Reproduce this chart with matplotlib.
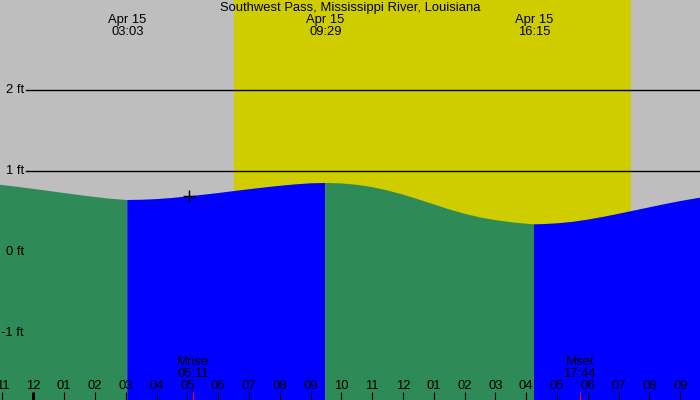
import numpy as np
import matplotlib
matplotlib.use('Agg')
import matplotlib.pyplot as plt
import matplotlib.transforms as mtransforms

# Donnees (heures depuis minuit le 15 avril, hauteur en ft)
t_tide = [-1.08, -1.0, -0.5, 0.0, 0.5, 1.0, 1.5, 2.0, 2.5, 3.0, 3.05, 3.5, 4.0, 4.5, 5.0, 5.5,
          6.0, 6.5, 7.0, 7.5, 8.0, 8.5, 9.0, 9.48, 10.0, 10.5, 11.0, 11.5, 12.0, 12.5,
          13.0, 13.5, 14.0, 14.5, 15.0, 15.5, 16.0, 16.25, 16.5, 17.0, 17.5, 18.0, 18.5,
          19.0, 19.5, 20.0, 20.5, 21.0, 21.64]
h_tide = [0.827, 0.822, 0.800, 0.775, 0.750, 0.724, 0.699, 0.675, 0.654, 0.639, 0.638, 0.641, 0.649, 0.663, 0.682, 0.702,
          0.724, 0.748, 0.771, 0.793, 0.813, 0.831, 0.844, 0.848, 0.843, 0.826, 0.797, 0.756, 0.705, 0.646,
          0.584, 0.522, 0.468, 0.423, 0.390, 0.364, 0.345, 0.338, 0.340, 0.350, 0.368, 0.396, 0.430,
          0.468, 0.508, 0.548, 0.588, 0.625, 0.667]

# Extremes (pleine mer / basse mer)
t_ext = [3.05, 9.48, 16.25]
lab_day = ['Apr 15', 'Apr 15', 'Apr 15']
lab_ext = ['03:03', '09:29', '16:15']

# Lever / coucher du soleil et de la lune
sunrise, sunset = 6.514, 19.40
t_moon = [5.183, 17.733]
lab_moon = ['Mrise', 'Mset']
lab_moon_t = ['05:11', '17:44']

# Point courant (+)
t_now, h_now = 5.05, 0.684

hours = list(range(-1, 22))
hour_labels = ['11', '12', '01', '02', '03', '04', '05', '06', '07', '08', '09', '10',
               '11', '12', '01', '02', '03', '04', '05', '06', '07', '08', '09']
levels = [2, 1, 0, -1]
level_labels = ['2 ft', '1 ft', '0 ft', '-1 ft']

title = 'Southwest Pass, Mississippi River, Louisiana'

plt.rcParams['font.family'] = ['Liberation Sans', 'DejaVu Sans']
fs = 9.4

fig = plt.figure(figsize=(7, 4), dpi=100)
ax = fig.add_axes([0, 0, 1, 1])
ax.set_xlim(-1.081, 21.64)
ax.set_ylim(-1.831, 3.107)
ax.axis('off')
ax.add_patch(plt.Rectangle((0, 0), 1, 1, transform=ax.transAxes, color='#bebebe', zorder=0))

ax.axvspan(sunrise, sunset, color='#cfcd00', lw=0, zorder=1)

for lv in levels[:2]:
    ax.axhline(lv, xmin=26/700, xmax=1, color='black', lw=1, zorder=2)

# Remplissage de l'eau: vert = descendante, bleu = montante
t = np.array(t_tide)
h = np.array(h_tide)
bounds = [t[0]] + t_ext + [t[-1]]
for i in range(len(bounds) - 1):
    m = (t >= bounds[i]) & (t <= bounds[i + 1])
    rising = h[m][-1] > h[m][0]
    ax.fill_between(t[m], -5, h[m], color='#0000ff' if rising else '#2e8b57',
                    lw=0, zorder=3)

ax.plot(t_now, h_now, marker='+', color='black', ms=9, mew=1, zorder=5)

trans = mtransforms.blended_transform_factory(ax.transData, fig.transFigure)

def ypx(p):
    return 1 - p / 400

for lv, lab in zip(levels, level_labels):
    ax.text(-1.081 + 24/30.81, lv, lab, ha='right', va='center', fontsize=fs, zorder=6)

ax.text(0.5, ypx(7.5), title, transform=fig.transFigure, ha='center', va='center', fontsize=fs, zorder=6)
for te, d, lab in zip(t_ext, lab_day, lab_ext):
    ax.text(te, ypx(19.7), d, transform=trans, ha='center', va='center', fontsize=fs, zorder=6)
    ax.text(te, ypx(32), lab, transform=trans, ha='center', va='center', fontsize=fs, zorder=6)

for hr, lab in zip(hours, hour_labels):
    ax.text(hr, ypx(385.7), lab, transform=trans, ha='center', va='center', fontsize=fs, zorder=6)
    ax.plot([hr, hr], [ypx(392), ypx(400)], transform=trans, color='black',
            lw=2.2 if hr == 0 else 0.8, solid_capstyle='butt', zorder=6)

for tm, lab, lt in zip(t_moon, lab_moon, lab_moon_t):
    ax.text(tm, ypx(361.7), lab, transform=trans, ha='center', va='center', fontsize=fs, zorder=6)
    ax.text(tm, ypx(373.7), lt, transform=trans, ha='center', va='center', fontsize=fs, zorder=6)
    ax.plot([tm, tm], [ypx(392), ypx(400)], transform=trans, color='red', lw=0.8,
            solid_capstyle='butt', zorder=6)

fig.savefig('out.png', dpi=100)
